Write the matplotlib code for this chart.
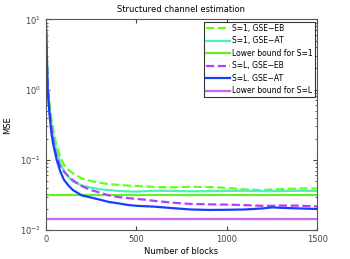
import matplotlib
matplotlib.use("Agg")
from matplotlib import pyplot as plt
import numpy as np

# x positions (number of blocks) shared by all curves
blocks = [0, 10, 20, 30, 40, 50, 60, 80, 100, 125, 150, 200, 250, 300, 350, 400, 450,
          500, 550, 600, 700, 800, 900, 1000, 1100, 1200, 1250, 1300, 1400, 1500]

s1_eb = [10, 1.4, 0.65, 0.4, 0.28, 0.2, 0.16, 0.11, 0.085, 0.072, 0.064, 0.054, 0.05, 0.047, 0.045, 0.044, 0.043,
         0.0425, 0.0418, 0.041, 0.0405, 0.0412, 0.041, 0.0398, 0.0378, 0.037, 0.0378, 0.0383, 0.039, 0.039]
s1_at = [10, 1.2, 0.55, 0.33, 0.23, 0.17, 0.13, 0.09, 0.07, 0.057, 0.049, 0.043, 0.040, 0.038, 0.037, 0.036, 0.0355,
         0.0352, 0.0358, 0.0362, 0.036, 0.0356, 0.0358, 0.036, 0.0362, 0.0358, 0.0358, 0.036, 0.0362, 0.036]
sl_eb = [10, 1.1, 0.5, 0.3, 0.2, 0.14, 0.11, 0.08, 0.068, 0.058, 0.051, 0.042, 0.037, 0.034, 0.031, 0.0295, 0.0285,
         0.0278, 0.027, 0.026, 0.0245, 0.0235, 0.0232, 0.0230, 0.0226, 0.0221, 0.0221, 0.0223, 0.0222, 0.0217]
sl_at = [10, 1.0, 0.45, 0.25, 0.17, 0.13, 0.1, 0.068, 0.052, 0.043, 0.037, 0.031, 0.029, 0.027, 0.025, 0.024, 0.0228,
         0.0221, 0.0218, 0.0215, 0.0205, 0.0196, 0.0193, 0.0194, 0.0196, 0.0203, 0.021, 0.0207, 0.0203, 0.0199]
bound_s1 = 0.0315
bound_sl = 0.0145

labels = ['S=1, GSE\u2212EB', 'S=1, GSE\u2212AT', 'Lower bound for S=1',
          'S=L, GSE\u2212EB', 'S=L. GSE\u2212AT', 'Lower bound for S=L']

plt.rcParams['font.family'] = ['DejaVu Sans']
plt.rcParams['font.size'] = 6

fig = plt.figure(figsize=(3.5, 2.59), dpi=100)
ax = fig.add_axes([0.131, 0.112, 0.775, 0.813])

lw = 1.6
ax.plot(blocks, s1_eb, '--', color='#66ff1a', lw=lw, label=labels[0])
ax.plot(blocks, s1_at, '-', color='#4ff0b8', lw=lw, label=labels[1])
ax.plot([0, 1500], [bound_s1, bound_s1], '-', color='#66ee2a', lw=lw, label=labels[2])
ax.plot(blocks, sl_eb, '--', color='#b040ff', lw=lw, label=labels[3])
ax.plot(blocks, sl_at, '-', color='#1a3cff', lw=lw, label=labels[4])
ax.plot([0, 1500], [bound_sl, bound_sl], '-', color='#cc66f0', lw=lw, label=labels[5])

ax.set_yscale('log')
ax.set_xlim(0, 1500)
ax.set_ylim(1e-2, 1e1)
ax.set_xticks([0, 500, 1000, 1500])
ax.tick_params(which='both', direction='in', top=True, right=True, labelsize=6, colors='#444444')
ax.tick_params(which='major', length=3)
ax.tick_params(which='minor', length=1.5)
for s in ax.spines.values():
    s.set_color('#555555')
    s.set_linewidth(0.8)

ax.set_title('Structured channel estimation', fontsize=6, pad=5)
ax.set_xlabel('Number of blocks', fontsize=6, labelpad=2)
ax.set_ylabel('MSE', fontsize=6, labelpad=6)

leg = ax.legend(loc='upper right', fontsize=5.5, frameon=True, fancybox=False,
                edgecolor='black', borderaxespad=0.3, handlelength=3.2,
                handletextpad=0.2, labelspacing=0.45, borderpad=0.3)
leg.get_frame().set_linewidth(0.8)

fig.savefig('out.png', dpi=100)
